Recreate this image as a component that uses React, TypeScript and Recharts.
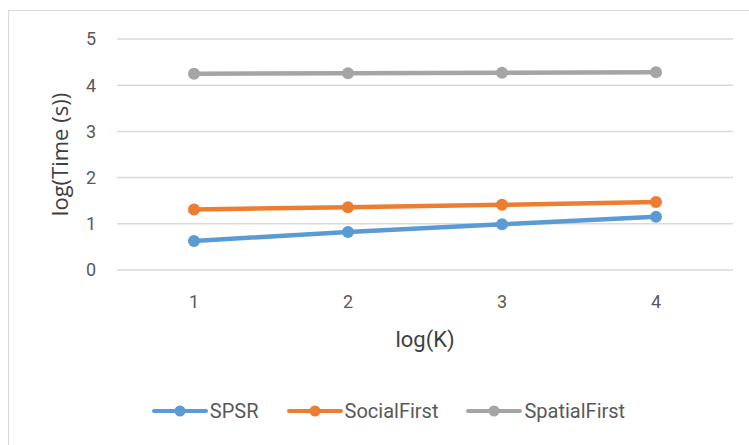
import React from 'react';
import { LineChart, Line, XAxis, YAxis, CartesianGrid, Label } from 'recharts';

const categories = ['1', '2', '3', '4'];
const spsr = [0.63, 0.82, 0.99, 1.15];
const socialFirst = [1.31, 1.36, 1.41, 1.47];
const spatialFirst = [4.25, 4.26, 4.27, 4.28];
const yTicks = [0, 1, 2, 3, 4, 5];

const SERIES = [
    { key: 'spsr', name: 'SPSR', color: '#5B9BD5' },
    { key: 'socialFirst', name: 'SocialFirst', color: '#ED7D31' },
    { key: 'spatialFirst', name: 'SpatialFirst', color: '#A5A5A5' },
];

const FONT = 'Roboto, "Noto Sans", sans-serif';
const TEXT_GRAY = '#595959';

const data = categories.map((k, i) => ({
    k,
    spsr: spsr[i],
    socialFirst: socialFirst[i],
    spatialFirst: spatialFirst[i],
}));

// excel style legend: line with a dot in the middle
const ChartLegend = () => (
    <div
        style={{
            position: 'absolute',
            left: 0,
            top: 398,
            width: 777,
            height: 26,
            display: 'flex',
            justifyContent: 'center',
            alignItems: 'center',
            gap: 28,
        }}
    >
        {SERIES.map((s) => (
            <div key={s.key} style={{ display: 'flex', alignItems: 'center' }}>
                <svg width={56} height={14}>
                    <line x1={2} y1={7} x2={54} y2={7} stroke={s.color} strokeWidth={4} strokeLinecap="round" />
                    <circle cx={28} cy={7} r={5.5} fill={s.color} />
                </svg>
                <span style={{ fontFamily: FONT, fontSize: 20, color: TEXT_GRAY, marginLeft: 2 }}>{s.name}</span>
            </div>
        ))}
    </div>
);

export default function App() {
    return (
        <div style={{ position: 'fixed', left: 0, top: 0, width: 749, height: 445, overflow: 'hidden', background: '#fff' }}>
            <div
                style={{
                    position: 'absolute',
                    left: 8,
                    top: 10,
                    width: 780,
                    height: 480,
                    border: '1px solid #D9D9D9',
                }}
            />
            <LineChart
                width={749}
                height={445}
                data={data}
                margin={{ top: 39, right: 16, left: 57, bottom: 95 }}
                style={{ position: 'absolute', left: 0, top: 0 }}
            >
                <CartesianGrid vertical={false} stroke="#D9D9D9" strokeWidth={1.5} />
                <XAxis
                    dataKey="k"
                    axisLine={false}
                    tickLine={false}
                    padding={{ left: 77, right: 77 }}
                    tick={{ fill: TEXT_GRAY, fontFamily: FONT, fontSize: 18 }}
                    tickMargin={19}
                    height={80}
                >
                    <Label
                        value="log(K)"
                        position="insideBottom"
                        offset={0}
                        dy={-3}
                        style={{ fill: '#404040', fontFamily: FONT, fontSize: 22 }}
                    />
                </XAxis>
                <YAxis
                    domain={[0, 5]}
                    ticks={yTicks}
                    axisLine={false}
                    tickLine={false}
                    width={60}
                    tickMargin={15}
                    tick={{ fill: TEXT_GRAY, fontFamily: FONT, fontSize: 18 }}
                >
                    <Label
                        value="log(Time (s))"
                        angle={-90}
                        position="insideLeft"
                        dx={-2}
                        style={{ fill: '#404040', fontFamily: '"Open Sans", sans-serif', fontSize: 22, textAnchor: 'middle' }}
                    />
                </YAxis>
                {SERIES.map((s) => (
                    <Line
                        key={s.key}
                        dataKey={s.key}
                        name={s.name}
                        stroke={s.color}
                        strokeWidth={4.5}
                        dot={{ r: 6, fill: s.color, stroke: s.color, strokeWidth: 0 }}
                        isAnimationActive={false}
                    />
                ))}
            </LineChart>
            <ChartLegend />
        </div>
    );
}
